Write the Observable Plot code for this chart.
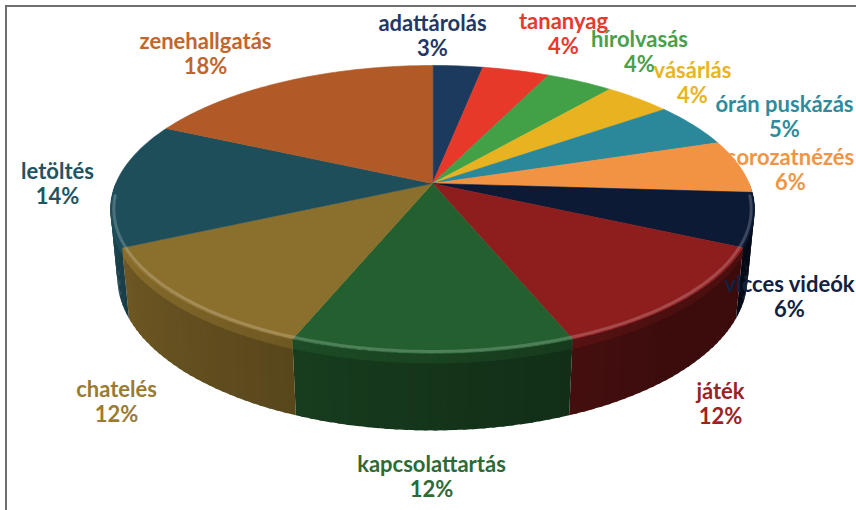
<!DOCTYPE html>
<html><head><meta charset="utf-8">
<script src="https://cdn.jsdelivr.net/npm/d3@7"></script>
<script src="https://cdn.jsdelivr.net/npm/@observablehq/plot@0.6"></script>
<style>
body{margin:0;background:#fff;}
#wrap{position:relative;width:856px;height:510px;overflow:hidden;background:#fff;}
#frame{position:absolute;left:5px;top:5px;width:900px;height:600px;border-top:2px solid #6f6f6f;border-left:2px solid #6f6f6f;pointer-events:none;}
</style></head><body><div id="wrap"><div id="frame"></div></div>
<script>
// ---- data ----
const categories = ["adattárolás","tananyag","hírolvasás","vásárlás","órán puskázás","sorozatnézés","vicces videók","játék","kapcsolattartás","chatelés","letöltés","zenehallgatás"];
const shares = [3,4,4,4,5,6,6,12,12,12,14,18];
const sliceColors = ["#1b3a5e","#e6392a","#42a047","#e9b220","#2a889a","#f29343","#0c1a35","#8e1d1e","#245f2f","#8b6f2c","#1f4e5b","#b15a27"];
const labelColors = ["#1f3864","#e8392b","#4aa04a","#e9b422","#2e8b9e","#f29446","#12213f","#9b2226","#2d6a35","#9a7b32","#22535f","#c0662d"];
// annotation placement (label block centres, pixel space)
const labelLayout = [[432,35],[563,33],[639,51],[692,82],[784,116],[790,169],[789,296],[720,403],[431,476],[116,401],[57,183],[205,53]];

// ---- 3D perspective geometry ----
const W = 856, H = 510;
const cx = 432, cy = 183, K = 1575, D = 4.973, thick = 0.24;
const s = 0.4399, c = Math.sqrt(1 - s*s);
function proj(theta, r, z){
  const X = r*Math.sin(theta), Y = r*Math.cos(theta);
  const w = Y*c - z*s, k = K/(D + w);
  return [cx + k*X, cy - k*(Y*s + z*c)];
}
const arcs = d3.pie().sort(null).value(d => d)(shares);
const step = Math.PI/180;

function shade(col, f){ const q = d3.rgb(col); return d3.rgb(Math.min(255,q.r*f), Math.min(255,q.g*f), Math.min(255,q.b*f)).formatHex(); }

const topRows = [], sideRows = [], bandRows = [], shadowRows = [], rimRows = [];
arcs.forEach((a, i) => {
  const id = "t" + i;
  const [x0,y0] = proj(0,0,0);
  topRows.push({id, x:x0, y:y0, fill: sliceColors[i]});
  const n = Math.max(2, Math.ceil((a.endAngle - a.startAngle)/step));
  for (let j = 0; j <= n; j++){
    const t = a.startAngle + (a.endAngle - a.startAngle)*j/n;
    const [x,y] = proj(t,1,0);
    topRows.push({id, x, y, fill: sliceColors[i]});
  }
  // side (front half)
  const lo = Math.max(a.startAngle, Math.PI/2), hi = Math.min(a.endAngle, 3*Math.PI/2);
  if (hi > lo){
    const m = Math.max(1, Math.ceil((hi - lo)/(1.5*step)));
    for (let j = 0; j < m; j++){
      const t0 = lo + (hi-lo)*j/m;
      const t1 = Math.min(hi, lo + (hi-lo)*(j+1)/m + 0.6*step);
      const tm = (t0+t1)/2, deg = tm*180/Math.PI;
      const tt = Math.max(0, Math.min(1, (deg - 140)/120));
      const f = 0.42 + 0.42*tt;
      const sid = "s" + i + "_" + j;
      const fill = shade(sliceColors[i], f);
      const hl = shade(sliceColors[i], Math.min(1.15, f*1.25));
      [[t0,0],[t1,0],[t1,-thick],[t0,-thick]].forEach(([ta,zz]) => {
        const [x,y] = proj(ta,1,zz);
        sideRows.push({id:sid, x, y, fill});
      });
      [[t0,0],[t1,0],[t1,-0.03],[t0,-0.03]].forEach(([ta,zz]) => {
        const [x,y] = proj(ta,1,zz);
        bandRows.push({id:sid+"b", x, y, fill: hl});
      });
    }
  }
});
for (let j = 0; j <= 360; j += 2){
  const t = j*step;
  const [x,y] = proj(t, 1.04, -thick - 0.03);
  shadowRows.push({x, y: y + 4});
}
for (let j = 95; j <= 265; j += 1){
  const [x,y] = proj(j*step, 0.99, 0);
  rimRows.push({x,y});
}
const labels = categories.map((name, i) => ({
  text: name + "\n" + shares[i] + "%",
  x: labelLayout[i][0], y: labelLayout[i][1], fill: labelColors[i]
}));

const chart = Plot.plot({
  width: W, height: H, margin: 0,
  x: {domain:[0,W], range:[0,W], axis:null},
  y: {domain:[0,H], range:[0,H], axis:null},
  color: {type:"identity"},
  style: {background:"transparent"},
  marks: [
    Plot.line(shadowRows, {x:"x", y:"y", fill:"#c4c4c4", stroke:"none", curve:"linear-closed", ariaLabel:"shadow"}),
    Plot.line(sideRows, {x:"x", y:"y", z:"id", fill:"fill", stroke:"none", curve:"linear-closed"}),
    Plot.line(bandRows, {x:"x", y:"y", z:"id", fill:"fill", stroke:"none", curve:"linear-closed"}),
    Plot.line(topRows, {x:"x", y:"y", z:"id", fill:"fill", stroke:"fill", strokeWidth:0.6, curve:"linear-closed"}),
    Plot.line(rimRows, {x:"x", y:"y", stroke:"#ffffff", strokeOpacity:0.2, strokeWidth:3}),
    Plot.text(labels, {x:"x", y:"y", text:"text", fill:"fill", fontSize:22, fontWeight:"bold", fontFamily:"Lato, 'Open Sans', sans-serif", lineHeight:1.15, textAnchor:"middle"})
  ]
});
const sh = chart.querySelector('[aria-label="shadow"]');
if (sh) sh.style.filter = "blur(6px)";
document.getElementById("wrap").appendChild(chart);
chart.style.position = "absolute"; chart.style.left = "0"; chart.style.top = "0";
</script></body></html>
